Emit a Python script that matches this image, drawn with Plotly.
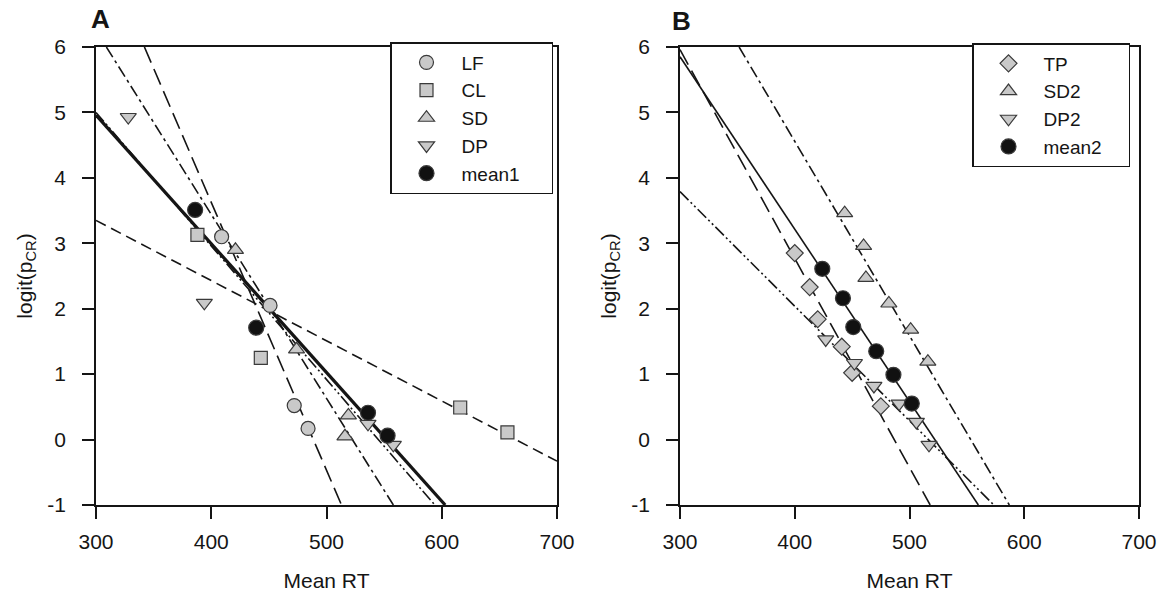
import plotly.graph_objects as go

W, H = 1167, 597

# ---------------- Panel A data ----------------
lf_x = [409, 451, 472, 484]
lf_y = [3.10, 2.05, 0.52, 0.17]
cl_x = [388, 443, 616, 657]
cl_y = [3.13, 1.25, 0.49, 0.11]
sd_x = [421, 474, 519, 516]
sd_y = [2.90, 1.38, 0.37, 0.05]
dp_x = [328, 394, 536, 558]
dp_y = [4.93, 2.09, 0.24, -0.08]
mean1_x = [386, 439, 536, 553]
mean1_y = [3.51, 1.71, 0.41, 0.06]

# fitted regression lines (end points)
lf_fit_x, lf_fit_y = [342, 513], [6.0, -1.0]
cl_fit_x, cl_fit_y = [300, 700], [3.35, -0.33]
sd_fit_x, sd_fit_y = [309, 558], [6.0, -1.0]
dp_fit_x, dp_fit_y = [300, 594], [5.0, -1.0]
mean1_fit_x, mean1_fit_y = [300, 603], [4.96, -1.0]

# ---------------- Panel B data ----------------
tp_x = [400, 413, 420, 441, 450, 475]
tp_y = [2.85, 2.33, 1.84, 1.42, 1.02, 0.51]
sd2_x = [443.5, 460, 462, 482, 501, 516]
sd2_y = [3.46, 2.96, 2.47, 2.08, 1.68, 1.19]
dp2_x = [427, 452, 469, 491, 506, 517]
dp2_y = [1.53, 1.17, 0.82, 0.55, 0.27, -0.08]
mean2_x = [424, 442, 451, 471, 486, 502]
mean2_y = [2.61, 2.16, 1.72, 1.35, 0.99, 0.55]

tp_fit_x, tp_fit_y = [300, 518], [5.96, -1.0]
sd2_fit_x, sd2_fit_y = [351.5, 587], [6.0, -1.0]
dp2_fit_x, dp2_fit_y = [300, 573.5], [3.79, -1.0]
mean2_fit_x, mean2_fit_y = [300, 560], [5.85, -1.0]

x_ticks = [300, 400, 500, 600, 700]
x_tick_labels = ["300", "400", "500", "600", "700"]
y_ticks = [-1, 0, 1, 2, 3, 4, 5, 6]
y_tick_labels = ["-1", "0", "1", "2", "3", "4", "5", "6"]

INK = "#151515"
FILL = "#c9c9c9"
EDGE = "#3a3a3a"
FONT = "Liberation Sans, Arial, Helvetica, sans-serif"
PAD_A = "\u00a0" * 5
PAD_B = "\u00a0" * 4

DASH = "11px,6px"
LONGDASH = "17px,7px"
DASHDOT = "12px,4px,3px,4px"
DASHDOTDOT = "12px,3px,2px,3px,2px,3px"

fig = go.Figure()


def add_line(x, y, dash, width, xa, ya):
    fig.add_trace(go.Scatter(x=x, y=y, mode="lines", showlegend=False,
                             line=dict(color=INK, width=width, dash=dash),
                             xaxis=xa, yaxis=ya, hoverinfo="skip"))


def add_pts(x, y, name, symbol, size, fill, xa, ya, legend, pad):
    fig.add_trace(go.Scatter(x=x, y=y, mode="markers", name=name + pad,
                             marker=dict(symbol=symbol, size=size, color=fill,
                                         line=dict(color=EDGE, width=1.2)),
                             xaxis=xa, yaxis=ya, legend=legend))


# Panel A lines
add_line(cl_fit_x, cl_fit_y, DASH, 1.6, "x", "y")
add_line(lf_fit_x, lf_fit_y, LONGDASH, 1.6, "x", "y")
add_line(sd_fit_x, sd_fit_y, DASHDOT, 1.6, "x", "y")
add_line(dp_fit_x, dp_fit_y, DASHDOTDOT, 1.6, "x", "y")
add_line(mean1_fit_x, mean1_fit_y, "solid", 3.2, "x", "y")

# Panel A points (legend order)
add_pts(lf_x, lf_y, "LF", "circle", 14, FILL, "x", "y", "legend", PAD_A)
add_pts(cl_x, cl_y, "CL", "square", 13, FILL, "x", "y", "legend", PAD_A)
add_pts(sd_x, sd_y, "SD", "triangle-up", 14, FILL, "x", "y", "legend", PAD_A)
add_pts(dp_x, dp_y, "DP", "triangle-down", 14, FILL, "x", "y", "legend", PAD_A)
add_pts(mean1_x, mean1_y, "mean1", "circle", 15, "#111111", "x", "y", "legend", PAD_A)

# Panel B lines
add_line(tp_fit_x, tp_fit_y, LONGDASH, 1.6, "x2", "y2")
add_line(sd2_fit_x, sd2_fit_y, DASHDOT, 1.6, "x2", "y2")
add_line(dp2_fit_x, dp2_fit_y, DASHDOTDOT, 1.6, "x2", "y2")
add_line(mean2_fit_x, mean2_fit_y, "solid", 1.6, "x2", "y2")

# Panel B points
add_pts(tp_x, tp_y, "TP", "diamond", 13, FILL, "x2", "y2", "legend2", PAD_B)
add_pts(sd2_x, sd2_y, "SD2", "triangle-up", 14, FILL, "x2", "y2", "legend2", PAD_B)
add_pts(dp2_x, dp2_y, "DP2", "triangle-down", 14, FILL, "x2", "y2", "legend2", PAD_B)
add_pts(mean2_x, mean2_y, "mean2", "circle", 15, "#111111", "x2", "y2", "legend2", PAD_B)

ydom = [1 - 505 / H, 1 - 47 / H]
xdomA = [96 / W, 557 / W]
xdomB = [680 / W, 1139 / W]

axis_common = dict(showgrid=False, zeroline=False, showline=True, linecolor=INK,
                   linewidth=1.5, mirror=True, ticks="outside", ticklen=12,
                   tickwidth=1.5, tickcolor=INK, automargin=False,
                   tickfont=dict(family=FONT, size=21, color=INK))

xa = dict(axis_common, range=[300, 700], tickvals=x_ticks, ticktext=x_tick_labels,
          title=dict(text="Mean RT", font=dict(family=FONT, size=21, color=INK), standoff=21),
          ticklabelstandoff=5)
ya = dict(axis_common, range=[-1, 6], tickvals=y_ticks, ticktext=y_tick_labels,
          title=dict(text="logit(p<sub>CR</sub>)", font=dict(family=FONT, size=21, color=INK),
                     standoff=9),
          ticklabelstandoff=12)

legend_common = dict(xanchor="left", yanchor="top", bordercolor=INK, borderwidth=1.5,
                     bgcolor="white", font=dict(family=FONT, size=19, color=INK),
                     itemwidth=60, tracegroupgap=0)

fig.update_layout(
    template="plotly_white",
    width=W, height=H,
    margin=dict(l=0, r=0, t=0, b=0, autoexpand=False),
    paper_bgcolor="white", plot_bgcolor="white",
    font=dict(family=FONT, color=INK),
    xaxis=dict(xa, domain=xdomA, anchor="y"),
    yaxis=dict(ya, domain=ydom, anchor="x"),
    xaxis2=dict(xa, domain=xdomB, anchor="y2"),
    yaxis2=dict(ya, domain=ydom, anchor="x2"),
    legend=dict(legend_common, x=390 / W, y=1 - 42 / H),
    legend2=dict(legend_common, x=972 / W, y=1 - 43 / H),
    annotations=[
        dict(text="<b>A</b>", x=100 / W, y=1 - 19 / H, xref="paper", yref="paper",
             xanchor="center", yanchor="middle", showarrow=False,
             font=dict(family=FONT, size=26, color=INK)),
        dict(text="<b>B</b>", x=681 / W, y=1 - 21 / H, xref="paper", yref="paper",
             xanchor="center", yanchor="middle", showarrow=False,
             font=dict(family=FONT, size=26, color=INK)),
    ],
)

fig.write_html("out.html")
